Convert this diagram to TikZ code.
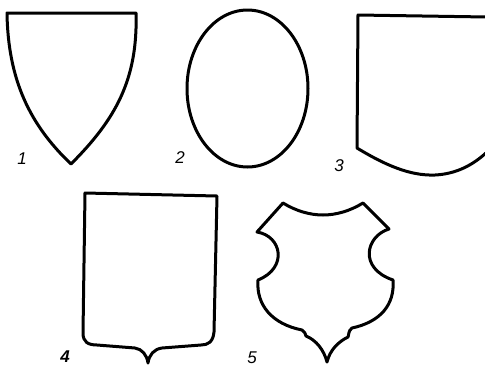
\documentclass[tikz,border=0pt]{standalone}
\usepackage{fontspec}
\setsansfont{Liberation Sans}
\usepackage{tikz}

\begin{document}
\begin{tikzpicture}[x=1pt, y=-1pt, line join=round,
    shield/.style={line width=3pt},
    num/.style={font=\fontsize{17}{17}\selectfont\sffamily\itshape, inner sep=0pt}]
    \useasboundingbox (0,0) rectangle (485,368);

    % Khiên 1: cạnh trên thẳng, hai cạnh cong gặp nhau ở mũi nhọn
    \draw[shield] (7,13) -- (136,13) .. controls (138,80) and (115,120) .. (71,164)
        .. controls (30,125) and (8,80) .. (7,13) -- cycle;
    \node[num] (n1) at (22,159) {1};

    % Khiên 2: hình bầu dục
    \draw[shield] (247.5,88.5) ellipse [x radius=60.5, y radius=78.5];
    \node[num] (n2) at (180,158) {2};

    % Khiên 3: đáy cong, bị cắt ở mép phải
    \draw[shield] (487,17) -- (358,15) -- (357,148)
        .. controls (385,165) and (410,176) .. (435,175)
        .. controls (455,174) and (472,166) .. (487,152);
    \node[num] (n3) at (339,166) {3};

    % Khiên 4: góc dưới bo tròn, mũi nhọn ở giữa
    \draw[shield] (85,193) -- (217,196) -- (214,332)
        .. controls (213,342) and (208,345) .. (201,345) -- (162,348)
        .. controls (154,349) and (149,355) .. (148,363)
        .. controls (147,355) and (142,349) .. (135,348) -- (97,345)
        .. controls (88,345) and (83,342) .. (83,333) -- cycle;
    \node[num, font=\fontsize{17}{17}\selectfont\sffamily\bfseries\itshape] (n4) at (65,357) {4};

    % Khiên 5: hai khuyết bên, đỉnh lõm, đáy nhọn
    \draw[shield] (283,203) .. controls (296,211) and (310,215) .. (323,215)
        .. controls (336,215) and (350,211) .. (363,203) -- (389,229)
        .. controls (366,236) and (358,268) .. (393,280)
        .. controls (395,305) and (380,322) .. (352,328)
        .. controls (348,331) and (349,335) .. (348,337)
        .. controls (338,342) and (330,350) .. (327,362)
        .. controls (324,350) and (316,340) .. (306,336)
        .. controls (305,334) and (305,331) .. (302,330)
        .. controls (272,324) and (256,305) .. (258,280)
        .. controls (288,268) and (282,236) .. (257,232) -- cycle;
    \node[num] (n5) at (252,358) {5};
\end{tikzpicture}
\end{document}
